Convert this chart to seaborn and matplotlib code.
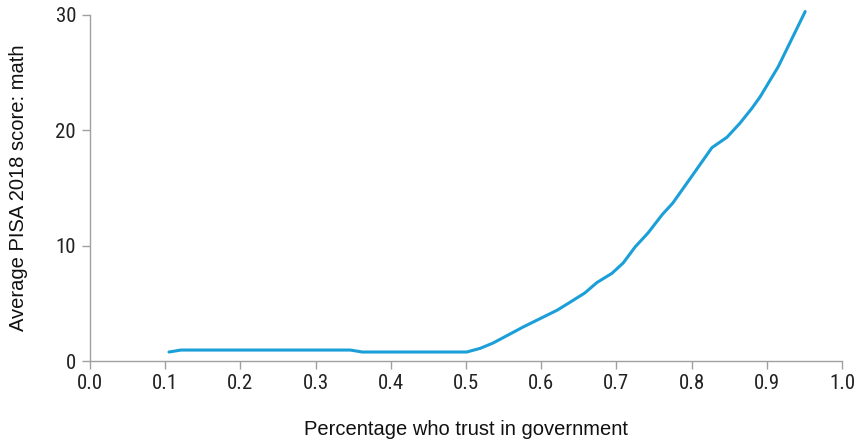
import matplotlib
matplotlib.use("Agg")
import matplotlib.pyplot as plt
from matplotlib import font_manager
import seaborn as sns
import pandas as pd

trust = [0.105, 0.121, 0.20, 0.30, 0.346, 0.362, 0.45, 0.501, 0.519, 0.536, 0.576,
         0.621, 0.636, 0.658, 0.674, 0.694, 0.709, 0.725, 0.742, 0.761, 0.775,
         0.800, 0.827, 0.847, 0.864, 0.880, 0.891, 0.915, 0.927, 0.951]
score = [0.78, 0.95, 0.95, 0.95, 0.95, 0.78, 0.78, 0.78, 1.1, 1.56, 2.95,
         4.4, 5.0, 5.9, 6.8, 7.6, 8.5, 9.9, 11.1, 12.7, 13.7,
         16.0, 18.5, 19.4, 20.6, 21.9, 22.9, 25.5, 27.1, 30.3]

df = pd.DataFrame({"trust": trust, "score": score})

sns.set_theme(style="white")
plt.rcParams['font.family'] = ['Liberation Sans', 'DejaVu Sans']

# pick a narrow font for tick labels if one is installed
names = {f.name for f in font_manager.fontManager.ttflist}
narrow = None
for cand in ["Liberation Sans Narrow", "Arial Narrow", "Roboto Condensed",
             "Open Sans Condensed", "DejaVu Sans Condensed"]:
    if cand in names:
        narrow = cand
        break

fig = plt.figure(figsize=(8.58, 4.41), dpi=100)
ax = fig.add_axes([0.1049, 0.1814, 0.8765, 0.7846])
sns.lineplot(data=df, x="trust", y="score", ax=ax, color="#1a9fd8", linewidth=2.2)
for ln in ax.get_lines():
    ln.set_clip_on(False)

ax.set_xlim(0, 1.0)
ax.set_ylim(0, 30)
ax.set_xticks([i / 10 for i in range(11)])
ax.set_xticklabels([f"{i/10:.1f}" for i in range(11)])
ax.set_yticks([0, 10, 20, 30])
for s in ["top", "right"]:
    ax.spines[s].set_visible(False)
for s in ["left", "bottom"]:
    ax.spines[s].set_color("#a0a0a0")
    ax.spines[s].set_linewidth(1.0)
ax.tick_params(axis="both", which="both", bottom=True, left=True, direction="out",
               length=6, width=1, color="#a0a0a0", labelcolor="#222222", pad=3)
ax.tick_params(axis="y", pad=4)

for lab in ax.get_xticklabels() + ax.get_yticklabels():
    if narrow:
        lab.set_fontfamily([narrow, 'Liberation Sans', 'DejaVu Sans'])
        lab.set_fontsize(15)
    else:
        lab.set_fontsize(13)

ax.set_xlabel("Percentage who trust in government", fontsize=14.5, labelpad=20,
              color="#111111")
ax.set_ylabel("Average PISA 2018 score: math", fontsize=14.5, labelpad=20,
              color="#111111")
ax.grid(False)

fig.savefig("out.png", dpi=100)
